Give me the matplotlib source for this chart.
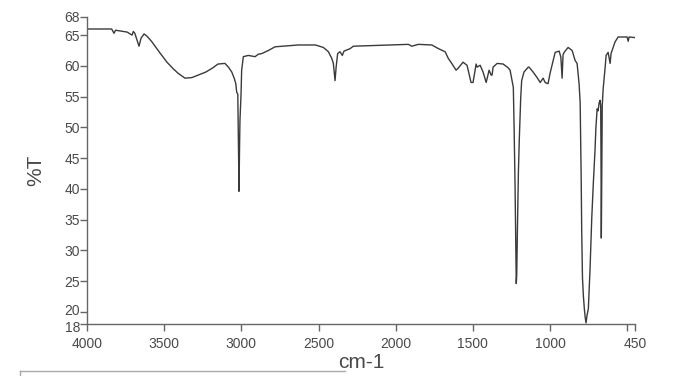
#!/usr/bin/env python3
import matplotlib
matplotlib.use('Agg')
import matplotlib.pyplot as plt
from matplotlib.lines import Line2D
from matplotlib.transforms import ScaledTranslation

# IR spectrum: wavenumber (cm-1) and %T
wavenumber = [4000, 3970, 3840, 3825, 3815, 3740, 3708, 3700, 3690, 3663,
              3650, 3630, 3610, 3579, 3530, 3482, 3440, 3410, 3365, 3320,
              3280, 3230, 3190, 3151, 3106, 3084, 3062, 3045, 3036, 3030,
              3023, 3018, 3016, 3015, 3012, 3009, 3002, 2998, 2987, 2955,
              2911, 2890, 2868, 2825, 2782, 2631, 2520, 2469, 2436, 2414,
              2404, 2393, 2386, 2376, 2361, 2346, 2335, 2296, 2274, 2048,
              1918, 1896, 1853, 1766, 1723, 1680, 1659, 1637, 1609, 1596,
              1564, 1538, 1512, 1499, 1479, 1473, 1453, 1434, 1414, 1395,
              1382, 1376, 1369, 1343, 1304, 1272, 1259, 1248, 1238, 1233,
              1227, 1222, 1219, 1216, 1212, 1205, 1199, 1190, 1184, 1169,
              1141, 1136, 1110, 1084, 1064, 1045, 1032, 1013, 1000, 980,
              967, 941, 930, 922, 916, 909, 883, 857, 838, 825,
              812, 805, 801, 798, 795, 790, 784, 778, 772, 767,
              760, 752, 741, 730, 720, 709, 703, 695, 689, 682,
              676, 672, 670, 668, 666, 662, 656, 643, 637, 624,
              611, 605, 579, 559, 501, 494, 488, 450]
transmittance = [66.0, 66.0, 66.0, 65.3, 65.8, 65.5, 65.0, 65.6, 65.3, 63.2,
                 64.5, 65.2, 64.8, 63.9, 62.2, 60.6, 59.5, 58.8, 58.0, 58.1,
                 58.5, 59.0, 59.6, 60.3, 60.4, 59.8, 59.0, 57.9, 57.1, 55.7,
                 55.4, 45.0, 39.8, 39.6, 46.2, 51.1, 55.4, 59.3, 61.5, 61.7,
                 61.5, 61.9, 62.0, 62.5, 63.1, 63.4, 63.4, 63.0, 62.3, 61.2,
                 60.4, 57.6, 59.8, 62.0, 62.3, 61.7, 62.4, 62.8, 63.2, 63.4,
                 63.5, 63.2, 63.5, 63.4, 62.8, 62.3, 61.2, 60.4, 59.3, 59.6,
                 60.6, 60.1, 57.3, 57.3, 60.3, 59.8, 60.1, 59.0, 57.3, 59.3,
                 58.5, 58.5, 59.8, 60.4, 60.3, 59.7, 59.3, 57.8, 56.5, 50.0,
                 40.8, 30.0, 24.6, 26.0, 32.6, 42.9, 48.3, 54.9, 57.6, 59.0,
                 59.8, 59.8, 59.0, 58.1, 57.3, 58.0, 57.3, 57.1, 58.8, 60.9,
                 62.2, 62.4, 61.4, 58.0, 61.8, 62.2, 63.0, 62.5, 60.9, 60.4,
                 57.1, 54.0, 47.0, 40.8, 33.0, 25.5, 22.5, 20.5, 19.0, 18.2,
                 19.5, 20.5, 27.0, 35.2, 40.8, 46.2, 50.0, 53.0, 52.7, 54.0,
                 54.4, 53.5, 45.0, 32.0, 40.0, 53.5, 56.3, 59.8, 61.7, 62.2,
                 60.4, 62.0, 63.9, 64.7, 64.7, 64.0, 64.7, 64.6]

x_ticks = [4000, 3500, 3000, 2500, 2000, 1500, 1000, 500, 450]
x_labels = ['4000', '3500', '3000', '2500', '2000', '1500', '1000', '', '450']
y_ticks = [18, 20, 25, 30, 35, 40, 45, 50, 55, 60, 65, 68]

plt.rcParams['font.family'] = ['Liberation Sans Narrow', 'Liberation Sans', 'DejaVu Sans']
ink = '#4a4a4a'

fig = plt.figure(figsize=(6.97, 3.76), dpi=100)
ax = fig.add_axes([0.1248, 0.138, 0.7862, 0.8176])

ax.plot(wavenumber, transmittance, color='#3a3a3a', lw=1.0)

ax.set_xlim(4000, 450)
ax.set_ylim(18, 68)
ax.set_xticks(x_ticks)
ax.set_xticklabels(x_labels)
ax.set_yticks(y_ticks)
ax.set_yticklabels([str(v) for v in y_ticks])

for side in ('top', 'right'):
    ax.spines[side].set_visible(False)
for side in ('left', 'bottom'):
    ax.spines[side].set_color('#666666')
    ax.spines[side].set_linewidth(1.0)

ax.tick_params(axis='both', colors='#666666', labelcolor=ink, labelsize=10,
               length=5, width=1.0, pad=1)
ax.tick_params(axis='x', pad=4)
ax.tick_params(axis='y', pad=0)

# the 18 and 20 labels sit close together, push them apart a little
ylabels = ax.get_yticklabels()
ylabels[0].set_transform(ylabels[0].get_transform() + ScaledTranslation(0, -2 / 72, fig.dpi_scale_trans))
ylabels[1].set_transform(ylabels[1].get_transform() + ScaledTranslation(0, 2 / 72, fig.dpi_scale_trans))

ax.set_xlabel('cm-1', fontsize=15, color=ink, labelpad=2)
ax.set_ylabel('%T', fontsize=15, color=ink, labelpad=14)

# scanner artefact: edge of a box under the plot
fig.add_artist(Line2D([20 / 697, 345 / 697], [1 - 371 / 376, 1 - 371 / 376],
                      color='#aaaaaa', lw=1.0))
fig.add_artist(Line2D([20 / 697, 20 / 697], [1 - 371 / 376, 0.0],
                      color='#aaaaaa', lw=1.0))

fig.savefig('out.png', dpi=100)
plt.close(fig)
